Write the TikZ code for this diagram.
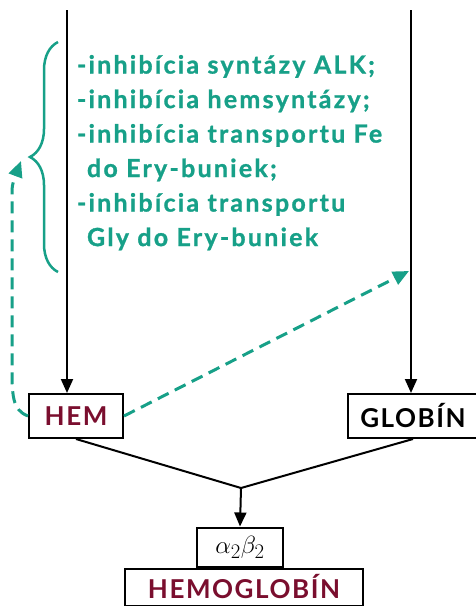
\documentclass[tikz,border=0pt]{standalone}
\usepackage{fontspec}
\setmainfont{Lato}
\usetikzlibrary{positioning, arrows.meta, decorations.pathreplacing}
\definecolor{inhgreen}{HTML}{17A088}
\definecolor{hemred}{HTML}{7A0E2E}
\tikzset{>={Triangle[length=14pt,width=12pt]}}

\begin{document}
\begin{tikzpicture}[x=1pt, y=-1pt, line width=2pt,
  box/.style={draw, line width=2pt, inner sep=0pt, minimum height=44pt,
    font=\fontsize{26}{28}\selectfont\bfseries\addfontfeature{LetterSpace=6}},
  inh/.style={draw=inhgreen, line width=3pt, dash pattern=on 12pt off 7pt,
    ->, >={Triangle[length=16pt,width=14pt]}, inhgreen}]
\useasboundingbox (0,0) rectangle (475,606);
\coordinate (lefttop) at (67,10);
\coordinate (righttop) at (411,10);
\coordinate (junction) at (241,488);
\coordinate (brtip) at (21,161);
\coordinate (target) at (409,271);
\node[box, minimum width=94pt, text=hemred] (hem) at (76,416) {HEM};
\node[box, minimum width=130pt] (globin) at (413,416) {GLOBÍN};
\node[box, minimum width=86pt, minimum height=39pt] (ab) at (240,547)
  {\fontsize{28}{30}\selectfont$\alpha_2\beta_2$};
\node[box, minimum width=238pt, minimum height=37pt, text=hemred] (hemoglobin)
  at (244,587) {HEMOGLOBÍN};
\node[anchor=north west, inner sep=0pt, align=left, text=inhgreen,
  font=\fontsize{25}{34.5}\selectfont\bfseries\addfontfeature{LetterSpace=9,FakeBold=1}]
  (inhlist) at (76,54)
  {-inhibícia syntázy ALK;\\
   -inhibícia hemsyntázy;\\
   -inhibícia transportu Fe\\
   \hspace{0.4em}do Ery-buniek;\\
   -inhibícia transportu\\
   \hspace{0.4em}Gly do Ery-buniek};
% main path
\draw[->] (lefttop) -- (lefttop |- hem.north);
\draw[->] (righttop) -- (righttop |- globin.north);
\draw (hem.south) -- (junction) -- (globin.south);
\draw[->] (junction) -- (ab.north);
% inhibition
\draw[inhgreen, line width=2.5pt, decorate,
  decoration={brace, amplitude=28pt, aspect=0.5}] (58,272) -- (58,42);
\draw[inh] (hem.west) .. controls (12,410) and (12,395) .. (12,365)
  -- (12,200) .. controls (12,185) .. (brtip);
\draw[inh] (hem.east) -- (target);
\end{tikzpicture}
\end{document}
